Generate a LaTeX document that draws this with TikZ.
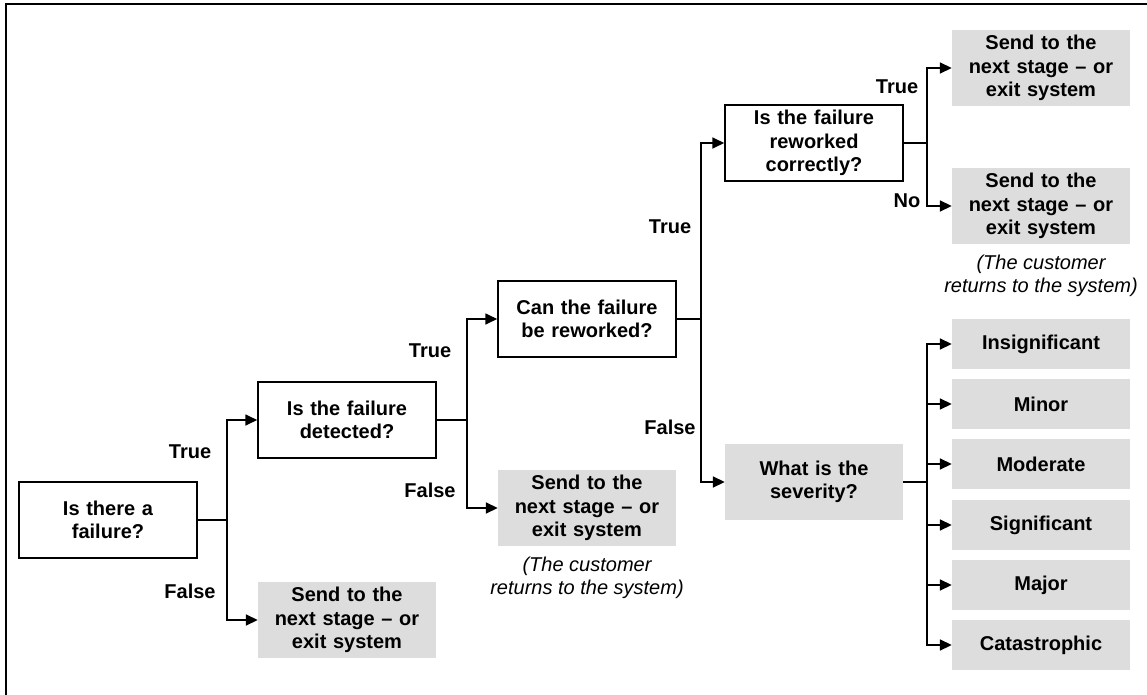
\documentclass[tikz,border=0pt]{standalone}
\usepackage{fontspec}
\setmainfont{Liberation Sans}
\usetikzlibrary{arrows.meta}
\definecolor{boxgray}{RGB}{221,221,221}
\begin{document}
\begin{tikzpicture}[x=1pt,y=-1pt,
  every node/.style={font=\fontsize{20}{23.5}\selectfont\bfseries},
  question/.style={draw=black,line width=1.5pt,fill=white,minimum width=178pt,minimum height=76pt,
    inner sep=0pt,text width=170pt,align=center},
  outcome/.style={fill=boxgray,minimum width=178pt,minimum height=76pt,inner sep=0pt,
    text width=170pt,align=center},
  level/.style={fill=boxgray,minimum width=178pt,minimum height=50pt,inner sep=0pt,
    text width=170pt,align=center},
  note/.style={font=\fontsize{20}{23.5}\selectfont\itshape,align=center,inner sep=0pt},
  branch/.style={font=\fontsize{20}{23.5}\selectfont\bfseries,inner sep=0pt},
  link/.style={line width=1.7pt},
  arrowlink/.style={line width=1.7pt,-{Triangle[length=12pt,width=11pt]}}
]
\useasboundingbox (0,0) rectangle (1147,695);

% frame
\draw[line width=2pt] (6,695) -- (6,4.5) -- (1147,4.5);

% decision boxes
\node[question] (q1) at (108,520) {Is there a\\failure?};
\node[question] (q2) at (347,420) {Is the failure\\detected?};
\node[question] (q3) at (587,319) {Can the failure\\be reworked?};
\node[question] (q4) at (814,143) {Is the failure\\reworked\\correctly?};
\node[outcome] (sev) at (814,482) {What is the\\severity?};

% outcome boxes
\node[outcome] (o1) at (347,620) {Send to the\\next stage -- or\\exit system};
\node[outcome] (o2) at (587,508) {Send to the\\next stage -- or\\exit system};
\node[outcome] (o3) at (1041,68) {Send to the\\next stage -- or\\exit system};
\node[outcome] (o4) at (1041,206) {Send to the\\next stage -- or\\exit system};

\node[note] (n2) at (587,578) {(The customer\\returns to the system)};
\node[note] (n4) at (1041,276) {(The customer\\returns to the system)};

% severity levels
\node[level] (s1) at (1041,344) {Insignificant};
\node[level] (s2) at (1041,404) {Minor};
\node[level] (s3) at (1041,464) {Moderate};
\node[level] (s4) at (1041,525) {Significant};
\node[level] (s5) at (1041,585) {Major};
\node[level] (s6) at (1041,645) {Catastrophic};

% fork points
\coordinate (f1) at (227,520);
\coordinate (f2) at (467,420);
\coordinate (f3) at (701,319);
\coordinate (f4) at (927,143);
\coordinate (f5) at (927,482);

% connectors
\draw[link] (q1.east) -- (f1);
\draw[arrowlink] (f1) |- (q2.west);
\draw[arrowlink] (f1) |- (o1.west);

\draw[link] (q2.east) -- (f2);
\draw[arrowlink] (f2) |- (q3.west);
\draw[arrowlink] (f2) |- (o2.west);

\draw[link] (q3.east) -- (f3);
\draw[arrowlink] (f3) |- (q4.west);
\draw[arrowlink] (f3) |- (sev.west);

\draw[link] (q4.east) -- (f4);
\draw[arrowlink] (f4) |- (o3.west);
\draw[arrowlink] (f4) |- (o4.west);

\draw[link] (sev.east) -- (f5);
\foreach \s in {s1,s2,s3,s4,s5,s6}
  \draw[arrowlink] (f5) |- (\s.west);

% branch labels
\node[branch] (t1) at (190,452) {True};
\node[branch] (e1) at (190,591) {False};
\node[branch] (t2) at (430,351) {True};
\node[branch] (e2) at (430,490) {False};
\node[branch] (t3) at (670,227) {True};
\node[branch] (e3) at (670,427) {False};
\node[branch] (t4) at (897,87) {True};
\node[branch] (e4) at (907,201) {No};
\end{tikzpicture}
\end{document}
